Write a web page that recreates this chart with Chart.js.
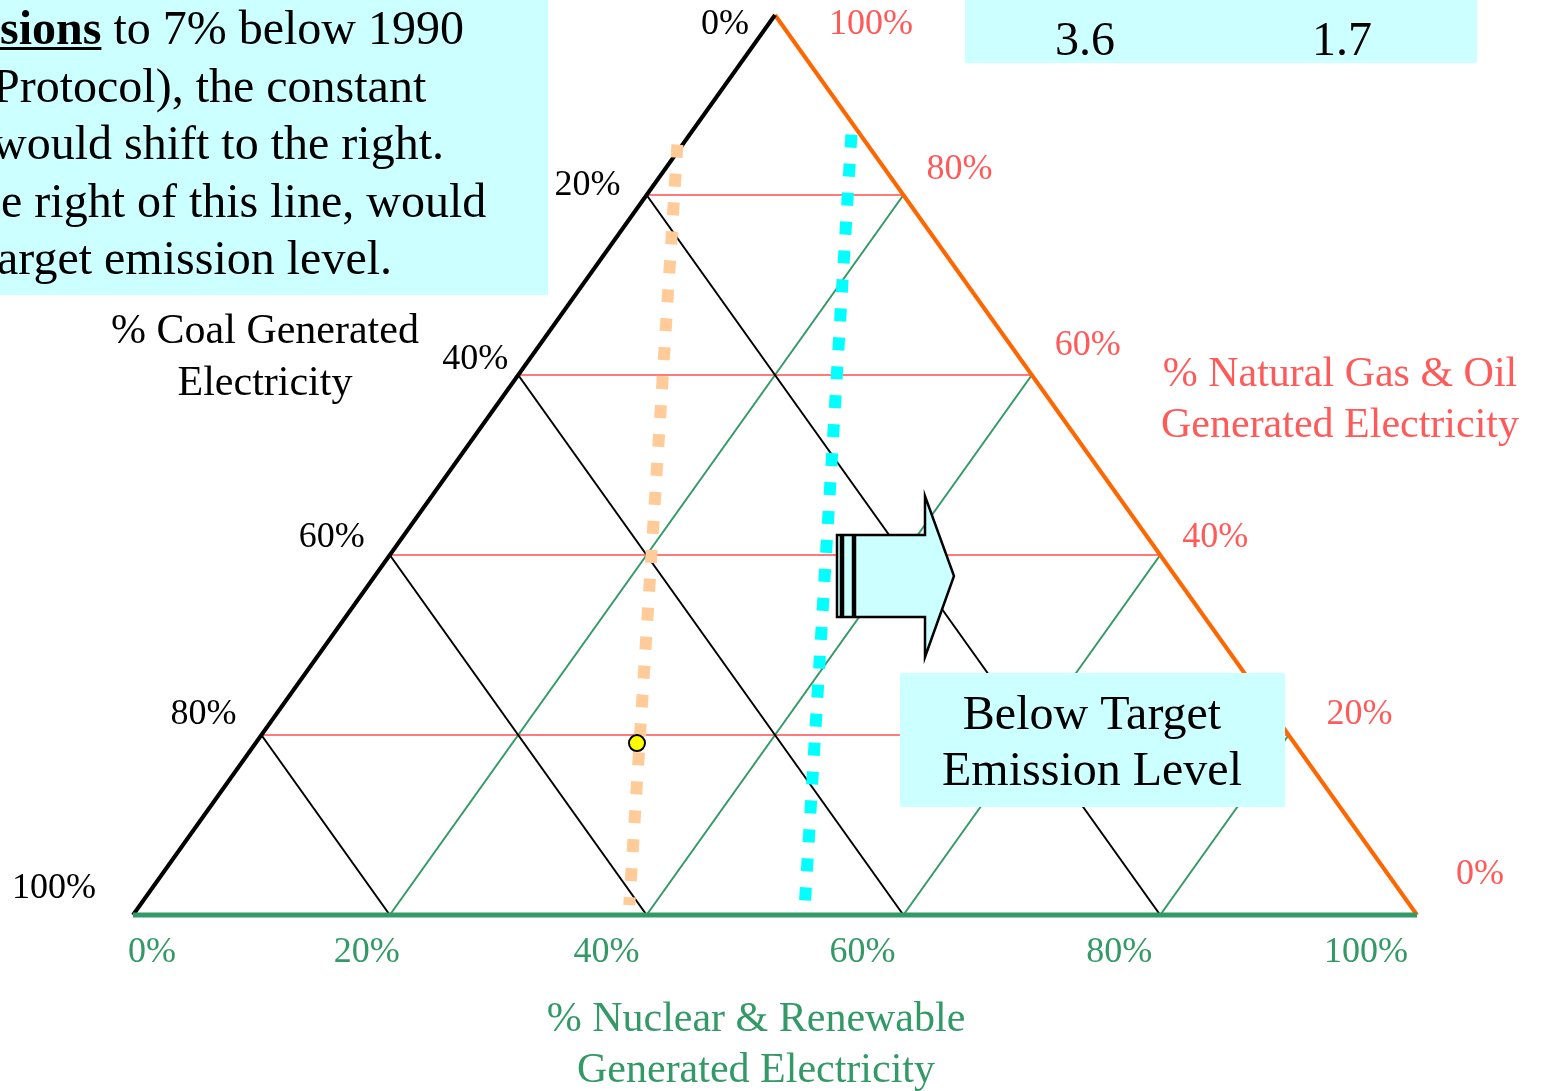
<!DOCTYPE html>
<html>
<head>
<meta charset="utf-8">
<script src="https://cdn.jsdelivr.net/npm/chart.js@4.4.1/dist/chart.umd.min.js"></script>
<style>
  html, body { margin: 0; padding: 0; background: #ffffff; }
  #wrap { position: relative; width: 1541px; height: 1091px; }
</style>
</head>
<body>
<div id="wrap"><canvas id="ternChart" width="1541" height="1091"></canvas></div>
<script>
// Ternary diagram: coal / gas & oil / nuclear & renewable (percent)
const gridPct = [20, 40, 60, 80];
const tickPct = [0, 20, 40, 60, 80, 100];
const coalTickLabels = ["0%", "20%", "40%", "60%", "80%", "100%"];
const gasTickLabels = ["100%", "80%", "60%", "40%", "20%", "0%"];
const nucTickLabels = ["0%", "20%", "40%", "60%", "80%", "100%"];

// current-emission line (peach) and target line (cyan): gas %, nuclear %
const currentGas = [85.6, 1.1];
const currentNuc = [-0.4, 38.1];
const targetGas = [86.7, 0.6];
const targetNuc = [12.6, 52.0];

// present mix (yellow point)
const presentGas = [19.1];
const presentNuc = [29.7];

const infoValues = ["3.6", "1.7"];

// label offsets from their edge points (px), hand placed like the original
const coalLabelOff = [[-50, 10], [-59, -9], [-43, -15], [-58, -17], [-58, -20], [-79, -26]];
const gasLabelOff = [[96, 10], [56, -25], [56, -29], [55, -17], [71, -20], [63, -40]];
const nucLabelOff = [[19, 38], [-23, 38], [-40, 38], [-41, 38], [-41, 38], [-51, 38]];

const RED = "#ff7b7b", RED_TXT = "#ff5a5a", GREEN = "#339966", ORANGE = "#ff6600";
const BOX = "#ccffff", SERIF = "'Liberation Serif', 'Times New Roman', serif";

// ternary -> cartesian (x: 0..100 along base, y: gas share)
function tern(gas, nuc) { return { x: nuc + gas / 2, y: gas }; }

const datasets = [];
function seg(pts, color, width, order, extra) {
  datasets.push(Object.assign({
    data: pts, showLine: true, borderColor: color, borderWidth: width,
    pointRadius: 0, fill: false, clip: false, order: order
  }, extra || {}));
}

gridPct.forEach(function (g) {
  // constant gas (red horizontals)
  seg([tern(g, 0), tern(g, 100 - g)], RED, 1.8, 9);
  // constant nuclear (green, from base to right edge)
  seg([tern(0, g), tern(100 - g, g)], GREEN, 2, 8);
  // constant coal (black, from left edge to base)
  seg([tern(100 - g, 0), tern(0, 100 - g)], "#000000", 2, 7);
});

// triangle edges
seg([tern(0, 0), tern(100, 0)], "#000000", 4, 5);
seg([tern(100, 0), tern(0, 100)], ORANGE, 4, 5);
seg([tern(0, 0), tern(0, 100)], GREEN, 5, 4);

seg(currentGas.map(function (g, i) { return tern(g, currentNuc[i]); }), "#ffcc99", 12, 3,
  { borderDash: [13, 16], borderCapStyle: "butt" });
seg(targetGas.map(function (g, i) { return tern(g, targetNuc[i]); }), "#00ffff", 12, 3,
  { borderDash: [13, 16], borderCapStyle: "butt" });

datasets.push({
  data: presentGas.map(function (g, i) { return tern(g, presentNuc[i]); }),
  pointRadius: 8, pointBackgroundColor: "#ffff00", pointBorderColor: "#000000",
  pointBorderWidth: 2, showLine: false, clip: false, order: 1
});

function txt(ctx, s, x, y, font, color, align) {
  ctx.font = font;
  ctx.fillStyle = color;
  ctx.textAlign = align || "center";
  ctx.textBaseline = "middle";
  ctx.fillText(s, x, y);
}

const decor = {
  id: "decor",
  afterDraw: function (chart) {
    const ctx = chart.ctx;
    const xs = chart.scales.x, ys = chart.scales.y;
    function px(p) { return { x: xs.getPixelForValue(p.x), y: ys.getPixelForValue(p.y) }; }
    const tickFont = "36px " + SERIF;
    ctx.save();

    // axis tick labels
    tickPct.forEach(function (t, i) {
      const l = px(tern(100 - t, 0));
      txt(ctx, coalTickLabels[i], l.x + coalLabelOff[i][0], l.y + coalLabelOff[i][1], tickFont, "#000000");
      const r = px(tern(100 - t, t));
      txt(ctx, gasTickLabels[i], r.x + gasLabelOff[i][0], r.y + gasLabelOff[i][1], tickFont, RED_TXT);
      const b = px(tern(0, t));
      txt(ctx, nucTickLabels[i], b.x + nucLabelOff[i][0], b.y + nucLabelOff[i][1], tickFont, GREEN);
    });

    // axis titles
    const titleFont = "42px " + SERIF;
    txt(ctx, "% Coal Generated", 265, 332, titleFont, "#000000");
    txt(ctx, "Electricity", 265, 384, titleFont, "#000000");
    txt(ctx, "% Natural Gas & Oil", 1340, 375, titleFont, RED_TXT);
    txt(ctx, "Generated Electricity", 1340, 426, titleFont, RED_TXT);
    txt(ctx, "% Nuclear & Renewable", 756, 1020, titleFont, GREEN);
    txt(ctx, "Generated Electricity", 756, 1071, titleFont, GREEN);

    // arrow
    ctx.fillStyle = BOX;
    ctx.strokeStyle = "#000000";
    ctx.lineWidth = 2.5;
    ctx.beginPath();
    ctx.moveTo(855, 535); ctx.lineTo(925, 535); ctx.lineTo(925, 496);
    ctx.lineTo(954, 576); ctx.lineTo(925, 657); ctx.lineTo(925, 617);
    ctx.lineTo(855, 617); ctx.closePath();
    ctx.fill(); ctx.stroke();
    [[837, 4], [843, 10]].forEach(function (r) {
      ctx.fillRect(r[0], 535, r[1], 82);
      ctx.strokeRect(r[0], 535, r[1], 82);
    });

    // text boxes
    const boxFont = "48px " + SERIF;
    ctx.fillStyle = BOX;
    ctx.fillRect(900, 673, 385, 134);
    txt(ctx, "Below Target", 1092, 716, boxFont, "#000000");
    txt(ctx, "Emission Level", 1092, 772, boxFont, "#000000");

    ctx.fillStyle = BOX;
    ctx.fillRect(965, 0, 512, 63);
    txt(ctx, infoValues[0], 1085, 42, boxFont, "#000000");
    txt(ctx, infoValues[1], 1342, 42, boxFont, "#000000");

    ctx.fillStyle = BOX;
    ctx.fillRect(0, 0, 548, 295);
    ctx.font = "bold 48px " + SERIF;
    ctx.fillStyle = "#000000";
    ctx.textAlign = "left";
    ctx.textBaseline = "alphabetic";
    ctx.fillText("sions", 0, 44);
    const bw = ctx.measureText("sions").width;
    ctx.fillRect(0, 47, bw, 3);
    ctx.font = boxFont;
    ctx.fillText(" to 7% below 1990", bw, 44);
    ctx.fillText("Protocol), the constant", -7, 102);
    ctx.fillText("would shift to the right.", -8, 159);
    ctx.fillText("e right of this line, would", 1, 217);
    ctx.fillText("arget emission level.", -3, 274);

    ctx.restore();
  }
};

new Chart(document.getElementById("ternChart").getContext("2d"), {
  type: "scatter",
  data: { datasets: datasets },
  options: {
    responsive: false,
    animation: false,
    events: [],
    layout: { padding: { left: 133, right: 124, top: 15, bottom: 176 } },
    plugins: { legend: { display: false }, tooltip: { enabled: false } },
    scales: {
      x: { type: "linear", min: 0, max: 100, display: false },
      y: { type: "linear", min: 0, max: 100, display: false }
    }
  },
  plugins: [decor]
});
</script>
</body>
</html>
